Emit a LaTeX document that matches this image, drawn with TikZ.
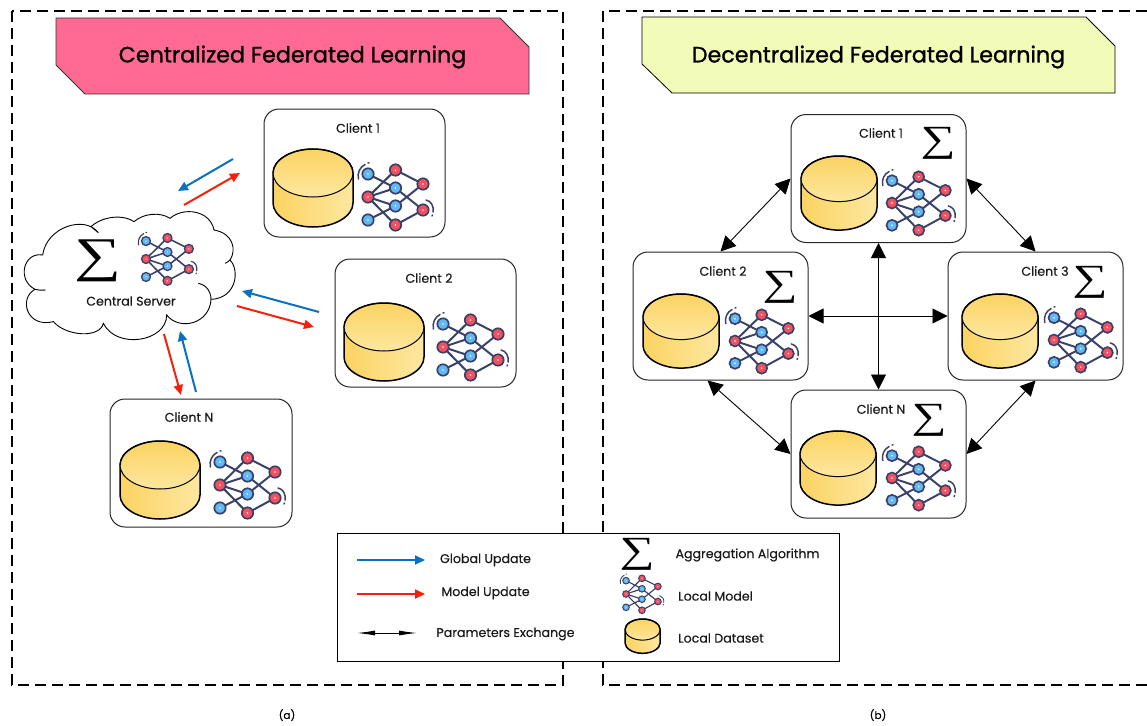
\documentclass[tikz,border=0pt]{standalone}
\usepackage{graphicx}
\usepackage{fontspec}
\setmainfont{Poppins}[FakeBold=0.25]
\newfontfamily\titlefont[FakeBold=1.1]{Poppins}
\newfontfamily\sigmafont{Liberation Serif}
\usetikzlibrary{arrows.meta,calc}
\definecolor{fblue}{HTML}{0A70C0}
\definecolor{fred}{HTML}{F5200A}
\definecolor{pinkT}{HTML}{FF6A92}
\definecolor{limeT}{HTML}{F3FBB8}
\definecolor{dbA}{HTML}{FBD361}
\definecolor{dbB}{HTML}{FDE7A0}
\definecolor{netE}{HTML}{3A4168}
\definecolor{netB}{HTML}{62B8F5}
\definecolor{netR}{HTML}{F4505F}
\tikzset{
  panel/.style={draw=black,line width=1.2pt,dash pattern=on 11pt off 6pt},
  clientbox/.style={draw=black!85,line width=1pt,rounded corners=15pt,fill=white,minimum width=#1,minimum height=128pt,inner sep=0pt},
  clientbox/.default=181pt,
  lbl/.style={font=\fontsize{12.6pt}{14pt}\selectfont,inner sep=0pt,text=black!90},
  lgd/.style={font=\fontsize{12.6pt}{14pt}\selectfont,inner sep=0pt,text=black!90},
  ttl/.style={font=\titlefont\fontsize{22.2pt}{25pt}\selectfont,inner sep=0pt},
  capt/.style={font=\fontsize{10.5pt}{12pt}\selectfont,inner sep=0pt},
  sigmaN/.style={inner sep=0pt},
  blueA/.style={fblue,line width=2pt,-{Triangle[length=10pt,width=9pt]}},
  redA/.style={fred,line width=2pt,-{Triangle[length=10pt,width=9pt]}},
  exch/.style={black,line width=0.9pt,{Triangle[length=15pt,width=15pt]}-{Triangle[length=15pt,width=15pt]}},
}
\newcommand\dbicon[3]{%
  \begin{scope}[shift={(#1,#2)},scale=#3]
    \shade[left color=dbA,right color=dbB] (0,24) -- (0,54) .. controls (0,67) and (18,78) .. (40,78) .. controls (62,78) and (80,67) .. (80,54) -- (80,24) -- cycle;
    \draw[black,line width=1.5pt] (0,24) -- (0,54) .. controls (0,67) and (18,78) .. (40,78) .. controls (62,78) and (80,67) .. (80,54) -- (80,24);
    \shade[top color=dbA,bottom color=dbB,draw=black,line width=1pt] (0,24) .. controls (0,11) and (18,0) .. (40,0) .. controls (62,0) and (80,11) .. (80,24) .. controls (80,37) and (62,48) .. (40,48) .. controls (18,48) and (0,37) .. (0,24) -- cycle;
    \draw[black,line width=1.5pt] (0,24) .. controls (0,11) and (18,0) .. (40,0) .. controls (62,0) and (80,11) .. (80,24);
  \end{scope}}
\newcommand\neticon[3]{%
  \begin{scope}[shift={(#1,#2)},scale=#3]
    \draw[netE,line width=#3*2pt] (0,-23)--(27.5,-9)--(55,13)--(27.5,28)--(0,0)--(27.5,-27)--(55,-13)--(27.5,9)--(0,23);
    \draw[netE,line width=#3*2pt] (0,0)--(27.5,-9) (0,0)--(27.5,9);
    \draw[netE,line width=#3*1.5pt,line cap=round] (-9.5,-18) .. controls (-11,-24) and (-8,-30) .. (-3,-32.5) (0,-34)--(1,-34.2);
    \draw[netE,line width=#3*1.5pt,line cap=round] (58,3) .. controls (63,4) and (66,9) .. (65,15) (64.5,18)--(64,19);
    \foreach \px/\py in {0/-23,27.5/-9,27.5/9,0/23}{
      \fill[netB,draw=netE,line width=#3*1.7pt] (\px,\py) circle[radius=5.7];
      \fill[white] (\px,\py) circle[radius=0.9];}
    \foreach \px/\py in {27.5/-27,55/-13,0/0,55/13,27.5/28}{
      \fill[netR,draw=netE,line width=#3*1.7pt] (\px,\py) circle[radius=5.7];
      \fill[white] (\px,\py) circle[radius=0.9];}
  \end{scope}}
\newcommand\sigmaglyph[2]{\resizebox*{#1}{#2}{\sigmafont ∑}}
\begin{document}
\begin{tikzpicture}[x=1pt,y=-1pt]
\useasboundingbox (0,0) rectangle (1147,725);
% panels
\draw[panel] (12,11) rectangle (563,685);
\draw[panel] (1147,11) -- (603,11) -- (603,685) -- (1147,685);
% titles
\draw[draw=black!80,fill=pinkT,line width=0.8pt] (56,18) -- (500,18) -- (529,47) -- (529,94) -- (85,94) -- (56,65) -- cycle;
\node[ttl] (t1) at (292.5,57) {Centralized Federated Learning};
\draw[draw=black,fill=limeT,line width=0.8pt] (642,17) -- (1086,17) -- (1115,46) -- (1115,93) -- (672,93) -- (642,64) -- cycle;
\node[ttl] (t2) at (878.5,57) {Decentralized Federated Learning};
% cloud
\begin{scope}[shift={(10,210)},scale=1/3]
\draw[fill=white,draw=black,line width=0.9pt] (98,135)
  .. controls (110,50) and (225,15) .. (265,68)
  .. controls (250,55) and (240,50) .. (245,48)
  .. controls (285,15) and (345,15) .. (372,35)
  .. controls (400,10) and (450,5) .. (480,25)
  .. controls (520,-10) and (600,0) .. (612,60)
  .. controls (670,70) and (680,120) .. (660,150)
  .. controls (690,180) and (680,265) .. (603,268)
  .. controls (600,340) and (510,365) .. (470,315)
  .. controls (470,395) and (320,420) .. (280,340)
  .. controls (270,385) and (170,380) .. (130,335)
  .. controls (50,355) and (25,265) .. (75,238)
  .. controls (20,210) and (40,125) .. (98,135) -- cycle;
\draw[black,line width=0.9pt] (75,238) .. controls (85,241) and (95,241) .. (107,240);
\draw[black,line width=0.9pt] (660,150) .. controls (655,155) and (650,158) .. (645,160);
\draw[black,line width=0.9pt] (603,268) .. controls (603,245) and (590,225) .. (565,220);
\end{scope}
\node[sigmaN] (ss) at (98,261) {\sigmaglyph{47pt}{42pt}};
\neticon{146}{259}{0.78}
\node[lbl] (cs) at (131,301) {Central Server};
% centralized clients
\node[clientbox] (c1a) at (354.5,173) {};
\node[lbl] (l1a) at (358,128) {Client 1};
\dbicon{273}{149}{1}\neticon{368}{197}{1}
\node[clientbox] (c2a) at (425.5,323) {};
\node[lbl] (l2a) at (429,278) {Client 2};
\dbicon{344}{303}{1}\neticon{443}{347}{1}
\node[clientbox=182pt] (cna) at (201,463) {};
\node[lbl] (lna) at (189,417) {Client N};
\dbicon{120}{441}{1}\neticon{220}{485}{1}
% centralized connectors
\coordinate (b1s) at (233,159); \coordinate (b1e) at (178,191);
\coordinate (r1s) at (184,205); \coordinate (r1e) at (240,173);
\coordinate (b2s) at (319,312); \coordinate (b2e) at (242,291);
\coordinate (r2s) at (237,306); \coordinate (r2e) at (314,327);
\coordinate (rns) at (164,334); \coordinate (rne) at (181,395);
\coordinate (bns) at (196,392); \coordinate (bne) at (180,331);
\draw[blueA] (b1s) -- (b1e);
\draw[redA] (r1s) -- (r1e);
\draw[blueA] (b2s) -- (b2e);
\draw[redA] (r2s) -- (r2e);
\draw[redA] (rns) -- (rne);
\draw[blueA] (bns) -- (bne);
% decentralized clients
\node[clientbox=175pt] (c1b) at (878.5,178.5) {};
\node[lbl] (l1b) at (881,133) {Client 1};
\node[sigmaN] (s1b) at (938,143) {\sigmaglyph{35pt}{32pt}};
\dbicon{801}{156}{0.95}\neticon{892}{203}{0.97}
\node[clientbox=175pt] (c2b) at (720.5,316) {};
\node[lbl] (l2b) at (723,271) {Client 2};
\node[sigmaN] (s2b) at (780,287) {\sigmaglyph{35pt}{32pt}};
\dbicon{643}{294}{0.95}\neticon{735}{341}{0.97}
\node[clientbox=175pt] (c3b) at (1035.5,316) {};
\node[lbl] (l3b) at (1045,271) {Client 3};
\node[sigmaN] (s3b) at (1090,282) {\sigmaglyph{35pt}{32pt}};
\dbicon{962}{294}{0.95}\neticon{1054}{340}{0.97}
\node[clientbox=175pt] (cnb) at (878.5,454) {};
\node[lbl] (lnb) at (881,409) {Client N};
\node[sigmaN] (snb) at (929,420) {\sigmaglyph{35pt}{32pt}};
\dbicon{800}{431}{0.95}\neticon{892}{478}{0.97}
% decentralized connectors
\draw[exch] (c1b.west) -- (c2b.north);
\draw[exch] (c1b.east) -- (c3b.north);
\draw[exch] ($(c2b.south)+(-13,0)$) -- (cnb.west);
\draw[exch] (c3b.south) -- (cnb.east);
\draw[exch] (c1b.south) -- (cnb.north);
\draw[exch] (c2b.east) -- (c3b.west);
% legend
\node[draw=black,fill=white,line width=1pt,minimum width=502pt,minimum height=128pt,inner sep=0pt] (lg) at (588,597) {};
\coordinate (g1) at (357,560); \coordinate (g2) at (425,560);
\coordinate (m1) at (357,594); \coordinate (m2) at (425,594);
\coordinate (p1) at (357,633); \coordinate (p2) at (417,633);
\draw[blueA] (g1) -- (g2);
\draw[redA] (m1) -- (m2);
\draw[black,line width=0.9pt,{Latex[length=18pt,width=5pt]}-{Latex[length=18pt,width=5pt]}] (p1) -- (p2);
\node[lgd] (tg) at (485.5,560) {Global Update};
\node[lgd] (tm) at (485.5,593) {Model Update};
\node[lgd] (tp) at (505.5,634) {Parameters Exchange};
\node[sigmaN] (sl) at (637,554.5) {\sigmaglyph{35pt}{32pt}};
\node[lgd] (ta) at (747.5,555) {Aggregation Algorithm};
\neticon{626}{594}{0.58}
\node[lgd] (tl) at (715.5,596) {Local Model};
\dbicon{625}{619}{0.44}
\node[lgd] (td) at (721,638) {Local Dataset};
% captions
\node[capt] (ca) at (287,715) {(a)};
\node[capt] (cb) at (878,715) {(b)};
\end{tikzpicture}
\end{document}
